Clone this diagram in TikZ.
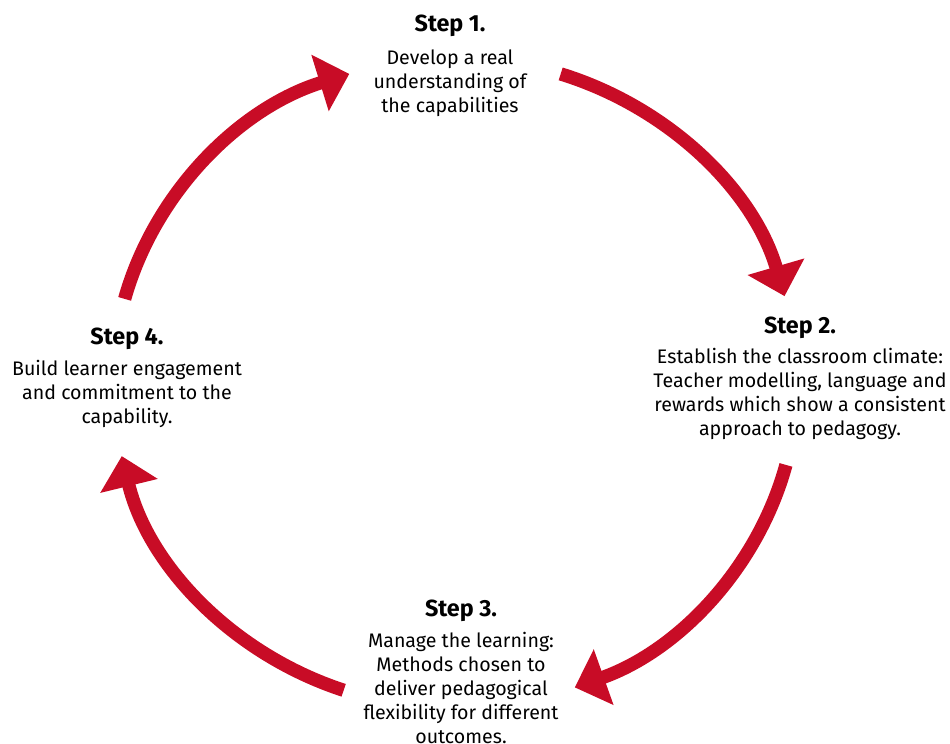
\documentclass[tikz,border=0pt]{standalone}
\usepackage{fontspec}
\setmainfont{Fira Sans}
\usetikzlibrary{arrows.meta}
\usetikzlibrary{positioning}
\definecolor{cyclered}{RGB}{200,12,38}

\begin{document}
\begin{tikzpicture}[x=0.75pt, y=-0.75pt,
    steptitle/.style={font=\fontsize{17.5}{20}\selectfont\bfseries, inner sep=0pt},
    steptext/.style={font=\fontsize{14.7}{18}\selectfont, align=center, inner sep=0pt},
    cyclearrow/.style={draw=cyclered, line width=10pt, -{Triangle[length=23pt, width=43pt]}}]
    \useasboundingbox (0,0) rectangle (950,743);

    % centre of the cycle
    \coordinate (hub) at (455,383);

    % Steps
    \node[steptitle] (stepone) at (450,26) {Step 1.};
    \node[steptext] (textone) [below=9pt of stepone] {Develop a real\\understanding of\\the capabilities};

    \node[steptitle] (steptwo) at (800,328) {Step 2.};
    \node[steptext] (texttwo) [below=6.5pt of steptwo] {Establish the classroom climate:\\Teacher modelling, language and\\rewards which show a consistent\\approach to pedagogy.};

    \node[steptitle] (stepthree) at (461,611) {Step 3.};
    \node[steptext] (textthree) [below=7pt of stepthree] {Manage the learning:\\Methods chosen to\\deliver pedagogical\\flexibility for different\\outcomes.};

    \node[steptitle] (stepfour) at (127,339) {Step 4.};
    \node[steptext] (textfour) [below=7pt of stepfour] {Build learner engagement\\and commitment to the\\capability.};

    % Arrows round the cycle
    \draw[cyclearrow] (hub) ++(-72:342 and 325) arc[start angle=-72, end angle=-15.5, x radius=342, y radius=325];
    \draw[cyclearrow] (hub) ++(14.6:342 and 325) arc[start angle=14.6, end angle=69.5, x radius=342, y radius=325];
    \draw[cyclearrow] (hub) ++(109:342 and 325) arc[start angle=109, end angle=167, x radius=342, y radius=325];
    \draw[cyclearrow] (hub) ++(195:342 and 325) arc[start angle=195, end angle=252, x radius=342, y radius=325];

\end{tikzpicture}
\end{document}
